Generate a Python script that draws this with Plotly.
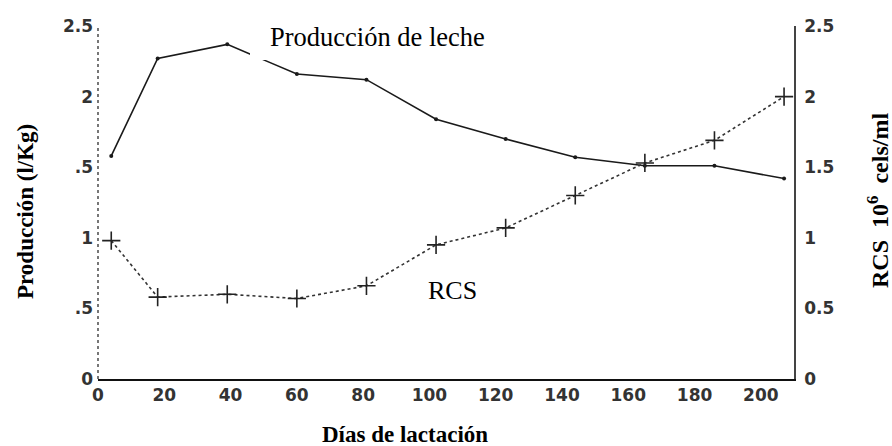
import plotly.graph_objects as go

dias = [4, 18, 39, 60, 81, 102, 123, 144, 165, 186, 207]
produccion = [1.58, 2.27, 2.37, 2.16, 2.12, 1.84, 1.70, 1.57, 1.51, 1.51, 1.42]
rcs = [0.98, 0.58, 0.60, 0.57, 0.66, 0.95, 1.07, 1.30, 1.53, 1.69, 2.00]

x_ticks = [0, 20, 40, 60, 80, 100, 120, 140, 160, 180, 200]
y_left_vals = [0, 0.5, 1, 1.5, 2, 2.5]
y_left_text = ["0", ".5", "1", ".5", "2", "2.5"]
y_right_vals = [0, 0.5, 1, 1.5, 2, 2.5]
y_right_text = ["0", "0.5", "1", "1.5", "2", "2.5"]

W, H = 892, 446
L, R, T, B = 98, 98, 26, 67
pw, ph = W - L - R, H - T - B

def px(x):
    return (x - L) / pw

def py(y):
    return (H - B - y) / ph

fig = go.Figure()
fig.add_trace(go.Scatter(
    x=dias, y=produccion, mode="lines+markers",
    line=dict(color="#1a1a1a", width=1.6),
    marker=dict(color="#1a1a1a", size=4),
    name="Producción de leche", yaxis="y"))
fig.add_trace(go.Scatter(
    x=dias, y=rcs, mode="lines+markers",
    line=dict(color="#333333", width=1.6, dash="dot"),
    marker=dict(symbol="cross-thin", size=13, line=dict(color="#222222", width=1.6)),
    name="RCS", yaxis="y2"))

tickfont = dict(family="DejaVu Sans", size=17, color="#333333", weight="bold")
serif_bold = dict(family="Liberation Serif", size=23, color="black")

fig.update_layout(
    width=W, height=H,
    margin=dict(l=L, r=R, t=T, b=B),
    paper_bgcolor="white", plot_bgcolor="white",
    showlegend=False,
    xaxis=dict(range=[0, 210], tickvals=x_ticks, ticks="", showgrid=False, zeroline=False,
               showline=True, linecolor="#111111", linewidth=2, tickfont=tickfont),
    yaxis=dict(range=[0, 2.5], tickvals=y_left_vals, ticktext=y_left_text, ticks="",
               showgrid=False, zeroline=False, showline=False, tickfont=tickfont,
               ticklabelstandoff=4),
    yaxis2=dict(range=[0, 2.5], tickvals=y_right_vals, ticktext=y_right_text, ticks="",
                overlaying="y", side="right", showgrid=False, zeroline=False, showline=True,
                linecolor="#444444", linewidth=1.5, tickfont=tickfont, ticklabelstandoff=5),
    shapes=[
        dict(type="line", xref="paper", yref="paper", x0=0, x1=0, y0=0, y1=1,
             line=dict(color="#555555", width=1.6, dash="dot")),
        dict(type="rect", xref="paper", yref="paper", layer="above",
             x0=px(250), x1=px(266), y0=py(60), y1=py(44),
             fillcolor="white", line=dict(width=0)),
    ],
    annotations=[
        dict(text="<b>Días de lactación</b>", xref="paper", yref="paper",
             x=px(404.5), y=py(435), showarrow=False, font=serif_bold,
             xanchor="center", yanchor="middle"),
        dict(text="<b>Producción (l/Kg)</b>", xref="paper", yref="paper",
             x=px(25), y=py(212), showarrow=False, font=serif_bold, textangle=-90,
             xanchor="center", yanchor="middle"),
        dict(text="<b>RCS  10<sup>6</sup>  cels/ml</b>", xref="paper", yref="paper",
             x=px(878), y=py(200), showarrow=False,
             font=dict(family="Liberation Serif", size=24, color="black"), textangle=-90,
             xanchor="center", yanchor="middle"),
        dict(text="Producción de leche", xref="paper", yref="paper",
             x=px(268), y=py(37), showarrow=False,
             font=dict(family="Liberation Serif", size=26.5, color="black"),
             xanchor="left", yanchor="middle", bgcolor="white"),
        dict(text="RCS", xref="paper", yref="paper",
             x=px(452), y=py(290), showarrow=False,
             font=dict(family="Liberation Serif", size=26, color="black"),
             xanchor="center", yanchor="middle"),
    ],
)

fig.write_html("out.html", config={"displayModeBar": False},
               post_script="document.body.style.margin='0';document.body.style.overflow='hidden';")
